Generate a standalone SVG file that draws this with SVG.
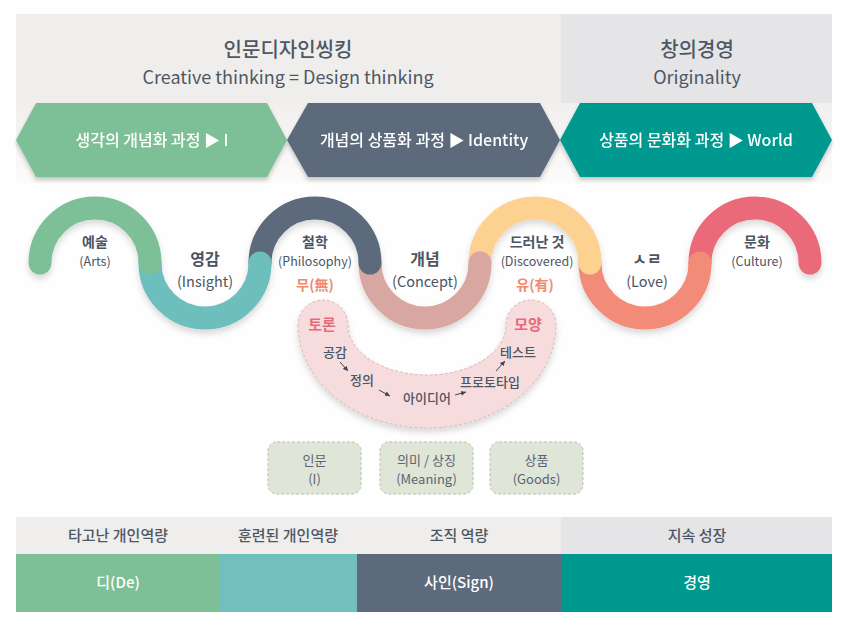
<svg xmlns="http://www.w3.org/2000/svg" width="848" height="629" viewBox="0 0 848 629">
<defs>
<style>
text{font-family:"Noto Sans CJK KR","Noto Sans",sans-serif;text-anchor:middle}
.h1{font-size:20px;fill:#4d5865;font-weight:500}
.h2{font-size:18px;fill:#4d5865}
.ar{font-size:16px;fill:#ffffff;font-weight:500}
.k{font-size:14px;fill:#4b5563;font-weight:700}
.e{font-size:12.5px;fill:#4b5563}
.kb{font-size:16px;fill:#4b5563;font-weight:700}
.eb{font-size:14.5px;fill:#4b5563}
.mu{font-size:14px;fill:#f08a6e;font-weight:700}
.pr{font-size:15px;fill:#e8697a;font-weight:700}
.st{font-size:13px;fill:#4b5563;font-weight:500}
.bx{fill:#dfe5d7;stroke:#b7c2ae;stroke-width:1;stroke-dasharray:3 2}
.bt{font-size:13px;fill:#5a6472}
.bh{font-size:15px;fill:#4d5865;font-weight:500}
.bv{font-size:15px;fill:#ffffff;font-weight:500}
.w{fill:none;stroke-width:23;stroke-linecap:round}
.sa{stroke:#3e4653;stroke-width:1;fill:none;marker-end:url(#ah)}
</style>
<marker id="ah" markerWidth="6" markerHeight="6" refX="5" refY="3" orient="auto" markerUnits="userSpaceOnUse">
<path d="M0,0.5 L5,3 L0,5.5 Z" fill="#3e4653"/>
</marker>
<filter id="sh" x="-10%" y="-10%" width="120%" height="130%">
<feDropShadow dx="0" dy="3" stdDeviation="2" flood-color="#000" flood-opacity="0.22"/>
</filter>
<filter id="ws" x="-10%" y="-20%" width="120%" height="150%">
<feDropShadow dx="0" dy="4" stdDeviation="3" flood-color="#000" flood-opacity="0.15"/>
</filter>
<linearGradient id="fade" x1="0" y1="0" x2="0" y2="1">
<stop offset="0" stop-color="#f1f0ee"/>
<stop offset="1" stop-color="#fbfbfa"/>
</linearGradient>
</defs>
<rect width="848" height="629" fill="#fefefe"/>

<g id="header">
<rect x="16" y="14" width="545" height="89" fill="#efeeec"/>
<rect x="561" y="14" width="271" height="89" fill="#e5e4e6"/>
<rect x="16" y="103" width="816" height="80" fill="url(#fade)"/>
<text class="h1" x="288" y="57">인문디자인씽킹</text>
<text class="h2" x="288" y="84">Creative thinking = Design thinking</text>
<text class="h1" x="697" y="57">창의경영</text>
<text class="h2" x="697" y="84">Originality</text>
</g>

<g id="arrow-1" filter="url(#sh)">
<polygon points="16,140 36,103 267,103 287,140 267,177 36,177" fill="#7dbf96"/>
<text class="ar" x="152" y="146">생각의 개념화 과정 ▶ I</text>
</g>
<g id="arrow-2" filter="url(#sh)">
<polygon points="287,140 308,103 540,103 560,140 540,177 308,177" fill="#5c6a7b"/>
<text class="ar" x="424" y="146">개념의 상품화 과정 ▶ Identity</text>
</g>
<g id="arrow-3" filter="url(#sh)">
<polygon points="560,140 580,103 812,103 832,140 812,177 580,177" fill="#00998f"/>
<text class="ar" x="696" y="146">상품의 문화화 과정 ▶ World</text>
</g>

<g id="wave" filter="url(#ws)">
<path class="w" stroke="#ea6b79" d="M700,263 A55,55 0 0 1 810,263"/>
<path class="w" stroke="#f28c79" d="M590,263 A55,55 0 0 0 700,263"/>
<path class="w" stroke="#fdd190" d="M480,263 A55,55 0 0 1 590,263"/>
<path class="w" stroke="#d8a7a2" d="M370,263 A55,55 0 0 0 480,263"/>
<path class="w" stroke="#5b6a7b" d="M260,263 A55,55 0 0 1 370,263"/>
<path class="w" stroke="#6dbfbe" d="M150,263 A55,55 0 0 0 260,263"/>
<path class="w" stroke="#7dbf96" d="M40,263 A55,55 0 0 1 150,263"/>
</g>

<g id="wave-labels">
<text class="k" x="95" y="247">예술</text>
<text class="e" x="95" y="266">(Arts)</text>
<text class="kb" x="205" y="265">영감</text>
<text class="eb" x="205" y="287">(Insight)</text>
<text class="k" x="315" y="247">철학</text>
<text class="e" x="315" y="266">(Philosophy)</text>
<text class="mu" x="315" y="290">무(無)</text>
<text class="kb" x="425" y="265">개념</text>
<text class="eb" x="425" y="287">(Concept)</text>
<text class="k" x="537" y="247">드러난 것</text>
<text class="e" x="537" y="266">(Discovered)</text>
<text class="mu" x="535" y="290">유(有)</text>
<text class="kb" x="647" y="265">ㅅㄹ</text>
<text class="eb" x="647" y="287">(Love)</text>
<text class="k" x="757" y="247">문화</text>
<text class="e" x="757" y="266">(Culture)</text>
</g>

<g id="process-band">
<path d="M298,325 A129,103 0 0 0 556,325 A25,25 0 0 0 506,325 A79,50 0 0 1 348,325 A25,25 0 0 0 298,325 Z" fill="#f6dcdc" stroke="#dcb4b4" stroke-width="1" stroke-dasharray="3 2" filter="url(#ws)"/>
<text class="pr" x="322" y="330">토론</text>
<text class="pr" x="528" y="330">모양</text>
<text class="st" x="335" y="357">공감</text>
<text class="st" x="362" y="385">정의</text>
<text class="st" x="427" y="403">아이디어</text>
<text class="st" x="490" y="387">프로토타입</text>
<text class="st" x="518" y="357">테스트</text>
</g>

<g id="connectors">
<line class="sa" x1="340" y1="362" x2="348" y2="371"/>
<line class="sa" x1="379" y1="390" x2="390" y2="396"/>
<line class="sa" x1="455" y1="395" x2="466" y2="392"/>
<line class="sa" x1="496" y1="371" x2="505" y2="361"/>
</g>

<g id="box-1">
<rect class="bx" x="268" y="442" width="93" height="52" rx="9"/>
<text class="bt" x="314.5" y="465">인문</text>
<text class="bt" x="314.5" y="484">(I)</text>
</g>
<g id="box-2">
<rect class="bx" x="380" y="442" width="93" height="52" rx="9"/>
<text class="bt" x="426.5" y="465">의미 / 상징</text>
<text class="bt" x="426.5" y="484">(Meaning)</text>
</g>
<g id="box-3">
<rect class="bx" x="490" y="442" width="93" height="52" rx="9"/>
<text class="bt" x="536.5" y="465">상품</text>
<text class="bt" x="536.5" y="484">(Goods)</text>
</g>

<g id="bottom-table">
<rect x="16" y="517" width="545" height="37" fill="#efeeec"/>
<rect x="561" y="517" width="271" height="37" fill="#e5e4e6"/>
<rect x="16" y="554" width="204" height="58" fill="#7dbf96"/>
<rect x="220" y="554" width="137" height="58" fill="#72bfbf"/>
<rect x="357" y="554" width="204" height="58" fill="#5c6a7b"/>
<rect x="561" y="554" width="271" height="58" fill="#00998f"/>
<text class="bh" x="118" y="541">타고난 개인역량</text>
<text class="bh" x="288" y="541">훈련된 개인역량</text>
<text class="bh" x="459" y="541">조직 역량</text>
<text class="bh" x="697" y="541">지속 성장</text>
<text class="bv" x="118" y="588">디(De)</text>
<text class="bv" x="459" y="588">사인(Sign)</text>
<text class="bv" x="697" y="588">경영</text>
</g>
</svg>
